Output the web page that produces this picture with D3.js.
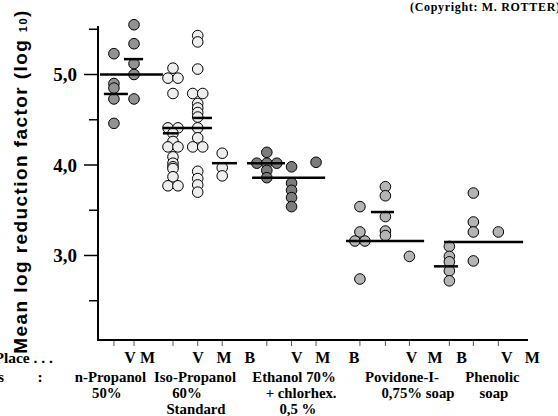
<!DOCTYPE html>
<html>
<head>
<meta charset="utf-8">
<script src="https://cdn.jsdelivr.net/npm/d3@7"></script>
<style>
  html, body { margin: 0; padding: 0; background: #fff; }
  svg { display: block; }
  .serif { font-family: "Liberation Serif", "Times New Roman", serif; font-weight: bold; }
  .sans { font-family: "Liberation Sans", Arial, sans-serif; font-weight: bold; }
</style>
</head>
<body>
<div id="chart"></div>
<script>
// log10 reduction factors
// x positions are in "slot" units along the category axis
const groups = ['n-Propanol 50%', 'Iso-Propanol 60% Standard', 'Ethanol 70% + chlorhex. 0,5 %', 'Povidone-I- 0,75% soap', 'Phenolic soap']

const columnSlots = [
  [0.65, 1.47],
  [3.06, 4.07, 5.07],
  [6.89, 7.9, 8.9],
  [10.69, 11.73, 12.71],
  [14.34, 15.32, 16.34]
]

const dotValues = [
  [[5.23, 4.90, 4.85, 4.73, 4.46], [5.55, 5.34, 5.12, 5.00, 4.73]],
  [[5.07, 4.96, 4.96, 4.79, 4.41, 4.41, 4.35, 4.26, 4.20, 4.20, 4.09, 4.02, 3.98, 3.96, 3.87, 3.77, 3.77],
   [5.43, 5.36, 5.06, 4.79, 4.79, 4.68, 4.63, 4.58, 4.53, 4.41, 4.30, 4.20, 4.20, 3.93, 3.85, 3.78, 3.70],
   [4.13, 3.97, 3.88]],
  [[4.14, 4.02, 4.02, 4.02, 3.94, 3.86], [3.98, 3.80, 3.72, 3.64, 3.54], [4.03]],
  [[3.54, 3.26, 3.16, 3.16, 2.74], [3.76, 3.66, 3.43, 3.27, 3.22], [2.99]],
  [[3.10, 2.99, 2.93, 2.83, 2.72], [3.69, 3.37, 3.26, 2.94], [3.26]]
]

// mean bars: value and slot span
const meanValues = [5.0, 4.785, 5.17, 4.41, 4.35, 4.52, 4.02, 4.02, 3.86, 3.48, 3.16, 3.15, 2.88]
const meanFrom = [0.08, 0.24, 1.06, 2.65, 2.65, 3.88, 4.65, 6.08, 6.29, 11.14, 10.12, 14.12, 13.71]
const meanTo = [2.65, 1.22, 1.84, 4.65, 3.27, 4.65, 5.67, 7.63, 9.27, 12.08, 13.31, 17.35, 14.69]

const letterText = ['V', 'M', 'V', 'M', 'B', 'V', 'M', 'B', 'V', 'M', 'B', 'V', 'M']
const letterSlot = [1.31, 2.02, 4.08, 5.14, 6.2, 8.11, 9.18, 10.45, 12.8, 13.76, 14.84, 16.68, 17.73]

const nameLines = [
  ['n-Propanol', '50%'],
  ['Iso-Propanol', '60%', 'Standard'],
  ['Ethanol 70%', '+ chlorhex.', '0,5 %'],
  ['Povidone-I-', '0,75% soap'],
  ['Phenolic', 'soap']
]
const nameSlots = [
  [0.51, 0.36],
  [3.96, 3.63, 4.0],
  [8.0, 8.29, 8.16],
  [12.41, 13.06],
  [16.1, 16.16]
]

const yMajor = [5, 4, 3]
const yMinor = [5.5, 4.5, 3.5, 2.5]
const yLabels = ['5,0', '4,0', '3,0']

const fills = ['#929292', '#eeeeee', '#7c7c7c', '#b4b4b4', '#b4b4b4']

const W = 558, H = 416
const svg = d3.select('#chart').append('svg').attr('width', W).attr('height', H)

const x = d3.scaleLinear().domain([0, 17.55]).range([98, 528])
const y = d3.scaleLinear().domain([2.066, 5.536]).range([340, 26])

// stretch a text to a given length by letter spacing (scan looks widely set)
function fitWidth (sel, target) {
  const node = sel.node()
  const len = node.getComputedTextLength()
  const n = node.textContent.length
  if (len < target && n > 1) sel.attr('letter-spacing', (target - len) / (n - 1))
}

// y axis ticks
svg.append('g').selectAll('line').data(yMajor).join('line')
  .attr('x1', 84).attr('x2', 98).attr('y1', d => y(d)).attr('y2', d => y(d))
  .attr('stroke', '#000').attr('stroke-width', 1.5)
svg.append('g').selectAll('line').data(yMinor).join('line')
  .attr('x1', 89).attr('x2', 98).attr('y1', d => y(d)).attr('y2', d => y(d))
  .attr('stroke', '#000').attr('stroke-width', 1.5)
svg.append('g').selectAll('text').data(yMajor).join('text')
  .attr('class', 'serif')
  .attr('x', 77).attr('y', d => y(d)).attr('dy', '0.35em')
  .attr('text-anchor', 'end').attr('font-size', 19)
  .text((d, i) => yLabels[i])

// x ticks at every column
const allSlots = columnSlots.flat()
svg.append('g').selectAll('line').data(allSlots).join('line')
  .attr('x1', d => x(d)).attr('x2', d => x(d)).attr('y1', 340).attr('y2', 346)
  .attr('stroke', '#555').attr('stroke-width', 1)

// axes
svg.append('line').attr('x1', 98).attr('x2', 98).attr('y1', 26).attr('y2', 341)
  .attr('stroke', '#000').attr('stroke-width', 2)
svg.append('line').attr('x1', 97).attr('x2', 528).attr('y1', 340).attr('y2', 340)
  .attr('stroke', '#000').attr('stroke-width', 2)

// dots: equal values in a column are spread side by side
const R = 5.3
const dots = []
dotValues.forEach((cols, g) => {
  cols.forEach((vals, c) => {
    const counts = d3.rollup(vals, v => v.length, v => v)
    const seen = new Map()
    vals.forEach(v => {
      const n = counts.get(v)
      const k = seen.get(v) || 0
      seen.set(v, k + 1)
      dots.push({ g, v, cx: x(columnSlots[g][c]) + (k - (n - 1) / 2) * 2 * 5 })
    })
  })
})
svg.append('g').selectAll('circle').data(dots).join('circle')
  .attr('cx', d => d.cx).attr('cy', d => y(d.v)).attr('r', R)
  .attr('fill', d => fills[d.g]).attr('stroke', '#000').attr('stroke-width', 1)

// mean bars
svg.append('g').selectAll('line').data(meanValues).join('line')
  .attr('x1', (d, i) => x(meanFrom[i])).attr('x2', (d, i) => x(meanTo[i]))
  .attr('y1', d => y(d)).attr('y2', d => y(d))
  .attr('stroke', '#000').attr('stroke-width', 2.5)

// bottom labels
svg.append('g').selectAll('text').data(letterText).join('text')
  .attr('class', 'serif').attr('font-size', 16)
  .attr('x', (d, i) => x(letterSlot[i])).attr('y', 363)
  .attr('text-anchor', 'middle').text(d => d)

nameLines.forEach((lines, g) => {
  svg.append('g').selectAll('text').data(lines).join('text')
    .attr('class', 'serif').attr('font-size', 14.8)
    .attr('x', (d, i) => x(nameSlots[g][i])).attr('y', (d, i) => 381.5 + i * 16)
    .attr('text-anchor', 'middle').text(d => d)
})

svg.append('text').attr('class', 'serif').attr('font-size', 15.5)
  .attr('x', 53).attr('y', 363).attr('text-anchor', 'end').text('Place . . .')
svg.append('text').attr('class', 'serif').attr('font-size', 15.5)
  .attr('x', 4).attr('y', 381.5).attr('text-anchor', 'end').text('Products')
svg.append('text').attr('class', 'serif').attr('font-size', 15.5)
  .attr('x', 40).attr('y', 381.5).attr('text-anchor', 'middle').text(':')

// y title
const title = svg.append('text').attr('class', 'sans').attr('font-size', 19)
  .attr('transform', 'translate(27,181.5) rotate(-90)')
  .attr('text-anchor', 'middle')
title.append('tspan').text('Mean log reduction factor (log ')
title.append('tspan').attr('font-size', 11).text('10')
title.append('tspan').text(')')
fitWidth(title, 343)

const copy = svg.append('text').attr('class', 'serif').attr('font-size', 12)
  .attr('x', 410).attr('y', 11).text('(Copyright: M. ROTTER)')
fitWidth(copy, 150)
</script>
</body>
</html>
